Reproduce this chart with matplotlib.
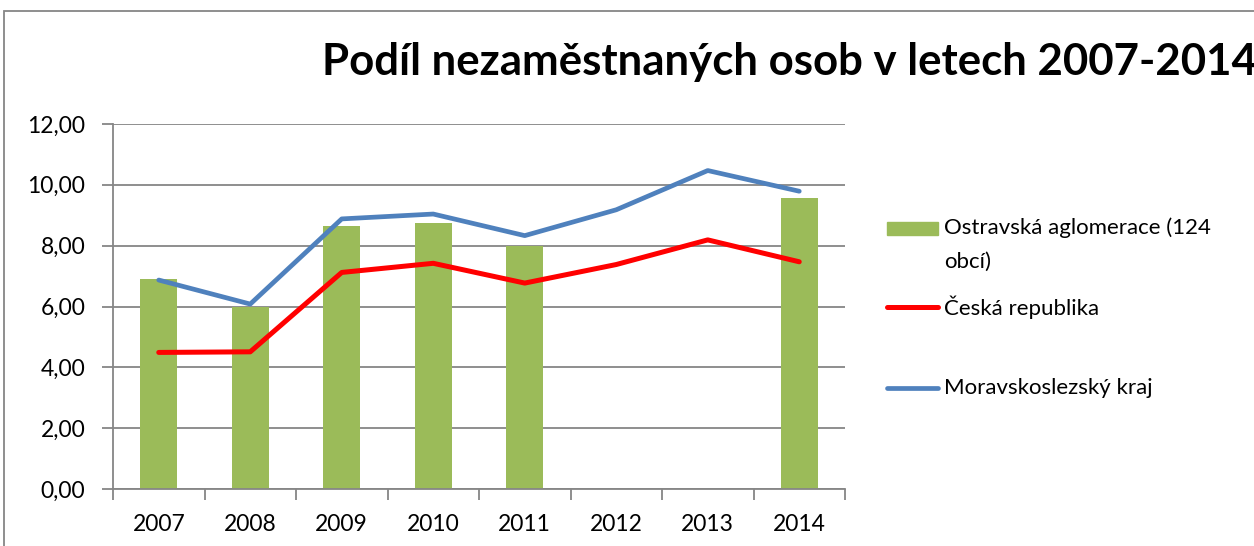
import matplotlib
matplotlib.use("Agg")
import matplotlib.pyplot as plt
from matplotlib.lines import Line2D
from matplotlib.patches import Rectangle
import numpy as np

plt.rcParams["font.family"] = ["Lato", "DejaVu Sans"]

years = ["2007", "2008", "2009", "2010", "2011", "2012", "2013", "2014"]
ostrava = [6.92, 6.00, 8.64, 8.73, 8.00, np.nan, np.nan, 9.56]
cr = [4.49, 4.51, 7.12, 7.42, 6.77, 7.38, 8.19, 7.47]
msk = [6.87, 6.08, 8.88, 9.04, 8.33, 9.18, 10.47, 9.79]
y_ticks = [0, 2, 4, 6, 8, 10, 12]

GREEN = "#9BBB59"
RED = "#FF0000"
BLUE = "#4F81BD"
GRID = "#868686"

fig = plt.figure(figsize=(12.54, 5.46), dpi=100)
ax = fig.add_axes([113 / 1254, 1 - 489 / 546, (845 - 113) / 1254, (489 - 124) / 546])

x = np.arange(len(years))
ax.bar(x, ostrava, width=0.4, color=GREEN, zorder=2)
ax.plot(x, cr, color=RED, lw=3.6, solid_capstyle="round", zorder=3)
ax.plot(x, msk, color=BLUE, lw=3.4, solid_capstyle="round", zorder=3)

ax.set_xlim(-0.5, len(years) - 0.5)
ax.set_ylim(0, 12)
ax.set_yticks(y_ticks)
ax.set_yticklabels([f"{v:.2f}".replace(".", ",") for v in y_ticks])
ax.set_xticks(x)
ax.set_xticklabels(years)
ax.set_xticks(np.arange(-0.5, len(years)), minor=True)
ax.tick_params(axis="x", which="major", length=0, pad=18, labelsize=16.5)
ax.tick_params(axis="x", which="minor", length=8, width=1.3, color=GRID)
ax.tick_params(axis="y", length=8, width=1.3, color=GRID, pad=12, labelsize=16.5)
ax.yaxis.grid(True, color=GRID, lw=1.3, zorder=0)
ax.set_axisbelow(True)
for side in ["top", "right"]:
    ax.spines[side].set_visible(False)
for side in ["left", "bottom"]:
    ax.spines[side].set_color(GRID)
    ax.spines[side].set_linewidth(1.3)

fig.text(789 / 1254, 1 - 62 / 546, "Podíl nezaměstnaných osob v letech 2007-2014",
         ha="center", va="center", fontsize=31.5, fontweight="bold")

# legend
fig.add_artist(Rectangle((887 / 1254, 1 - 235 / 546), 51 / 1254, 13 / 546,
                         transform=fig.transFigure, color=GREEN))
fig.text(944 / 1254, 1 - 228 / 546, "Ostravská aglomerace (124", va="center", fontsize=16)
fig.text(944 / 1254, 1 - 262 / 546, "obcí)", va="center", fontsize=16)
fig.add_artist(Line2D([887 / 1254, 938 / 1254], [1 - 307 / 546] * 2,
                      transform=fig.transFigure, color=RED, lw=3.6, solid_capstyle="round"))
fig.text(944 / 1254, 1 - 307 / 546, "Česká republika", va="center", fontsize=16)
fig.add_artist(Line2D([887 / 1254, 938 / 1254], [1 - 388 / 546] * 2,
                      transform=fig.transFigure, color=BLUE, lw=3.4, solid_capstyle="round"))
fig.text(944 / 1254, 1 - 388 / 546, "Moravskoslezský kraj", va="center", fontsize=16)

# chart border
fig.add_artist(Rectangle((4 / 1254, -0.1), 1.2, 1.1 - 11.5 / 546,
                         transform=fig.transFigure, fill=False, edgecolor=GRID, lw=1.3))

fig.savefig("out.png", dpi=100)
